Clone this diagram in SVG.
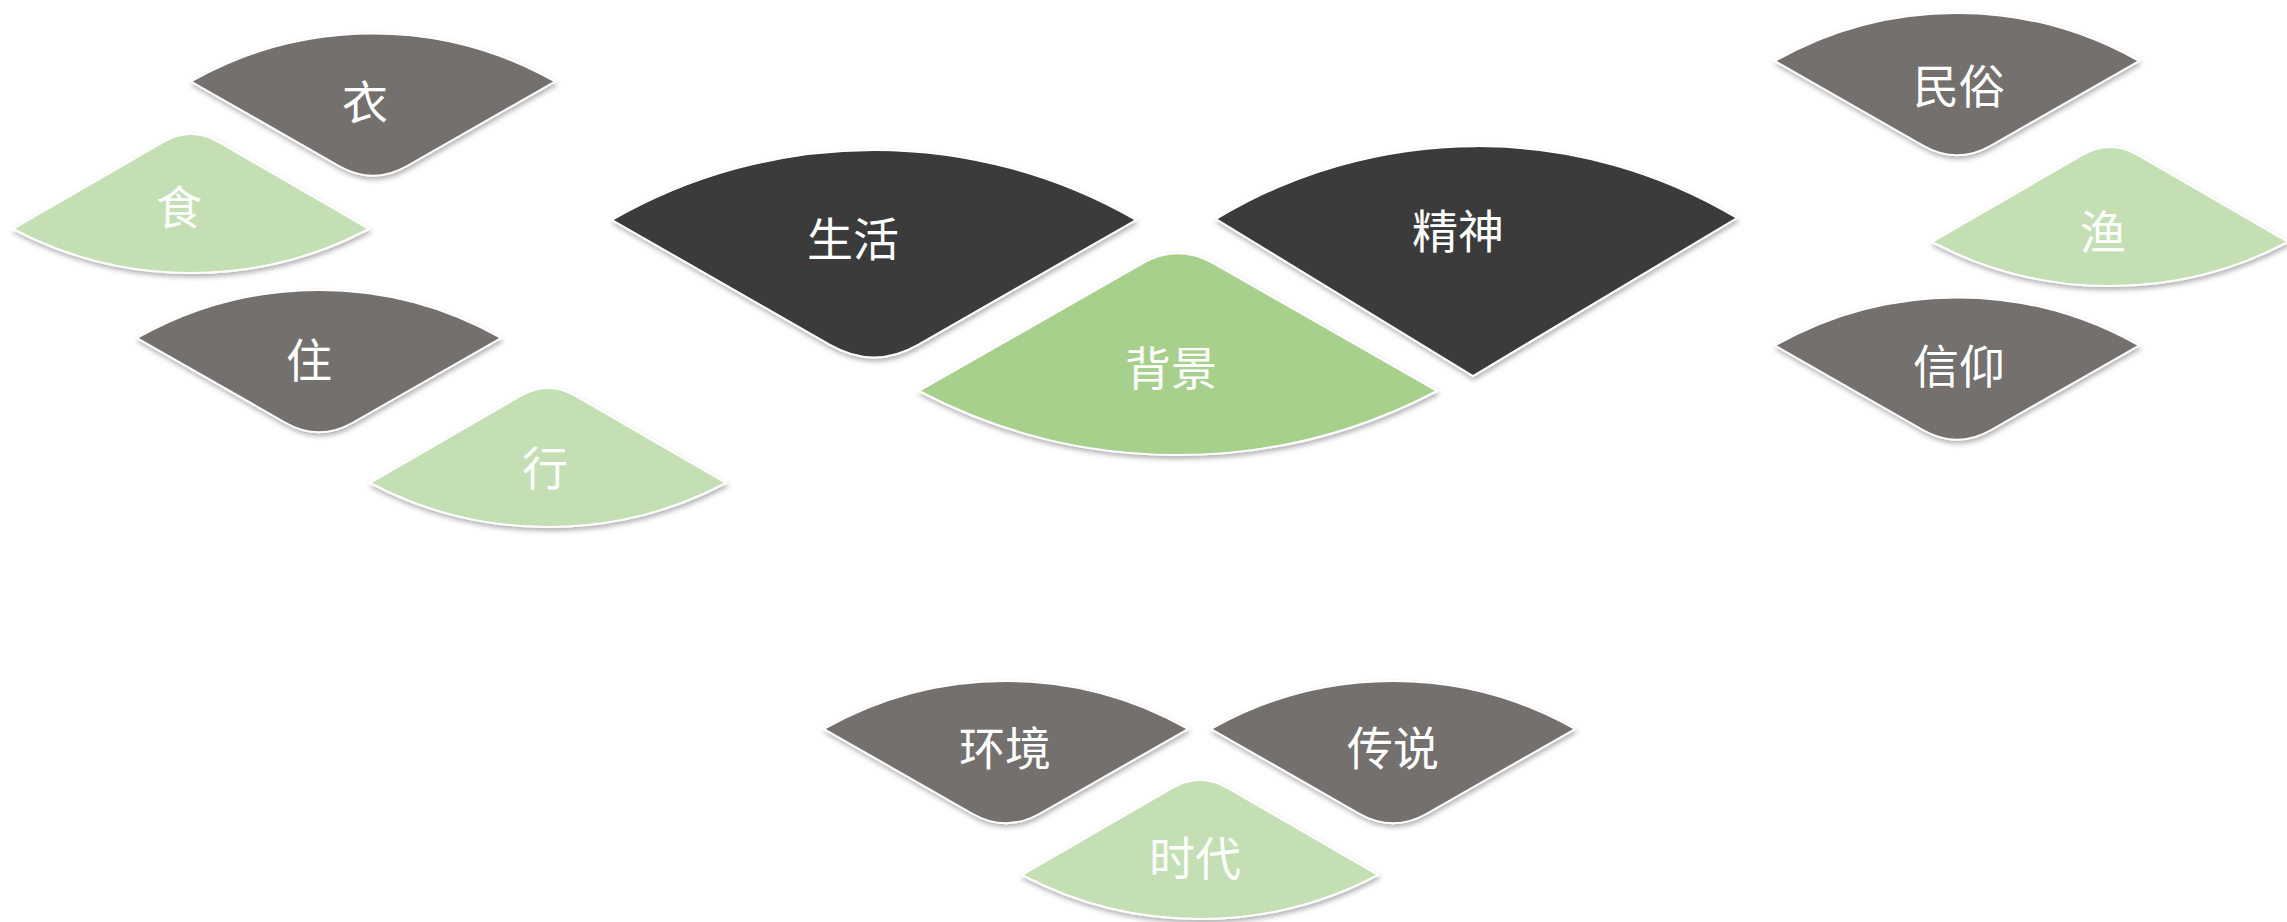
<svg xmlns="http://www.w3.org/2000/svg" width="2287" height="922" viewBox="0 0 2287 922">
<style>
.t{fill:#ffffff;font-family:"Noto Sans CJK SC","Noto Sans",sans-serif;font-size:46px;text-anchor:middle;dominant-baseline:central}
.dk{fill:#3a3a3a}
.gr{fill:#736f6e}
.lg{fill:#c4dfb4}
.bg{fill:#a8d08d}
.s{stroke:#ffffff;stroke-width:2;filter:url(#sh)}
</style>
<defs>
<filter id="sh" x="-10%" y="-10%" width="120%" height="130%">
<feDropShadow dx="1" dy="3" stdDeviation="2.5" flood-color="#000" flood-opacity="0.3"/>
</filter>
<path id="down" d="M -182 48 A 369 369 0 0 1 182 48 L 34 132.5 Q 0 152 -34 132.5 Z"/>
<path id="up" d="M -178 95 L -28 8.2 Q 0 -8 28 8.2 L 178 95 A 382 382 0 0 1 -178 95 Z"/>
<path id="bigdown" d="M -262 70 A 525 525 0 0 1 262 70 L 44 194.8 Q 0 220 -44 194.8 Z"/>
<path id="bigup" d="M -259 136 L -36 8.6 Q 0 -12 36 8.6 L 259 136 A 556 556 0 0 1 -259 136 Z"/>
</defs>
<g id="connectors"></g>
<g id="n-yi"><use href="#down" class="gr s" transform="translate(373,33.5)"/><text class="t" x="365" y="99">衣</text></g>
<g id="n-shi"><use href="#up" class="lg s" transform="translate(191,134)"/><text class="t" x="179" y="204">食</text></g>
<g id="n-zhu"><use href="#down" class="gr s" transform="translate(319,290)"/><text class="t" x="309" y="357">住</text></g>
<g id="n-xing"><use href="#up" class="lg s" transform="translate(548,388)"/><text class="t" x="545" y="465">行</text></g>
<g id="n-shenghuo"><use href="#bigdown" class="dk s" transform="translate(874,150)"/><text class="t" x="853" y="236">生活</text></g>
<g id="n-jingshen"><path class="dk s" d="M 1216 219 A 505 505 0 0 1 1737 218 L 1473 376 Z"/><text class="t" x="1458" y="228">精神</text></g>
<g id="n-beijing"><use href="#bigup" class="bg s" transform="translate(1178,255)"/><text class="t" x="1171" y="365">背景</text></g>
<g id="n-minsu"><use href="#down" class="gr s" transform="translate(1957,13)"/><text class="t" x="1959" y="83">民俗</text></g>
<g id="n-yu"><use href="#up" class="lg s" transform="translate(2110,147)"/><text class="t" x="2103" y="229">渔</text></g>
<g id="n-xinyang"><use href="#down" class="gr s" transform="translate(1957,297.5)"/><text class="t" x="1959" y="363">信仰</text></g>
<g id="n-huanjing"><use href="#down" class="gr s" transform="translate(1006,681)"/><text class="t" x="1005" y="745">环境</text></g>
<g id="n-chuanshuo"><use href="#down" class="gr s" transform="translate(1393,681)"/><text class="t" x="1393" y="745">传说</text></g>
<g id="n-shidai"><use href="#up" class="lg s" transform="translate(1200,780)"/><text class="t" x="1195" y="855">时代</text></g>
</svg>
